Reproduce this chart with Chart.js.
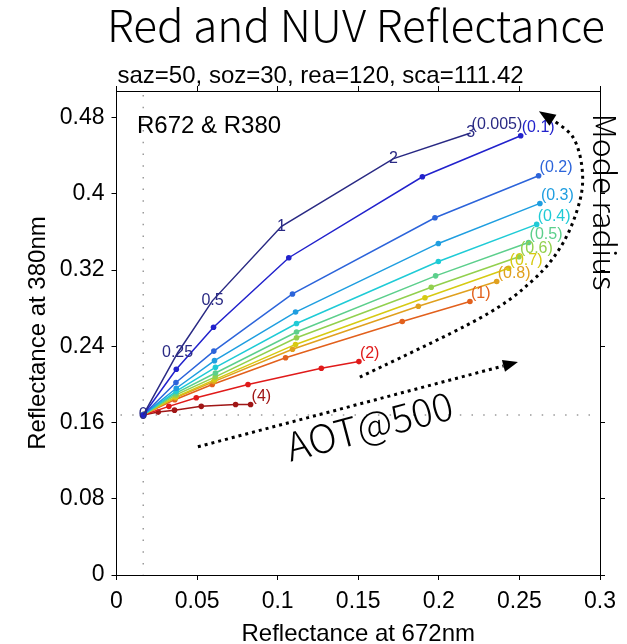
<!DOCTYPE html>
<html><head><meta charset="utf-8">
<script src="https://cdn.jsdelivr.net/npm/chart.js@4.4.1/dist/chart.umd.min.js"></script>
<style>html,body{margin:0;padding:0;background:#fff;}canvas{display:block;}</style>
</head><body>
<canvas id="c" width="627" height="644"></canvas>
<script>
// ---- data ----
const aotLabels = ["0", "0.25", "0.5", "1", "2", "3"];
const modeRadii = ["0.005", "0.1", "0.2", "0.3", "0.4", "0.5", "0.6", "0.7", "0.8", "1", "2", "4"];

const r672_r0005 = [0.0166, 0.0379, 0.0596, 0.1024, 0.1719, 0.2197];
const r380_r0005 = [0.168, 0.233, 0.288, 0.366, 0.437, 0.464];
const r672_r01 = [0.0166, 0.0371, 0.0602, 0.1069, 0.1898, 0.2508];
const r380_r01 = [0.168, 0.216, 0.260, 0.333, 0.418, 0.461];
const r672_r02 = [0.0166, 0.0369, 0.0604, 0.1092, 0.1976, 0.2619];
const r380_r02 = [0.168, 0.202, 0.235, 0.295, 0.375, 0.419];
const r672_r03 = [0.0166, 0.0371, 0.0608, 0.1111, 0.1997, 0.2627];
const r380_r03 = [0.168, 0.196, 0.225, 0.276, 0.348, 0.390];
const r672_r04 = [0.0166, 0.0371, 0.0614, 0.1117, 0.1997, 0.2607];
const r380_r04 = [0.168, 0.193, 0.218, 0.264, 0.329, 0.368];
const r672_r05 = [0.0166, 0.0369, 0.0614, 0.1117, 0.1980, 0.2557];
const r380_r05 = [0.168, 0.191, 0.212, 0.255, 0.314, 0.349];
const r672_r06 = [0.0166, 0.0369, 0.0613, 0.1117, 0.1953, 0.2497];
const r380_r06 = [0.168, 0.189, 0.208, 0.249, 0.302, 0.334];
const r672_r07 = [0.0166, 0.0368, 0.0610, 0.1111, 0.1914, 0.2433];
const r380_r07 = [0.168, 0.187, 0.205, 0.242, 0.291, 0.322];
const r672_r08 = [0.0166, 0.0366, 0.0604, 0.1092, 0.1873, 0.2359];
const r380_r08 = [0.168, 0.186, 0.203, 0.237, 0.282, 0.308];
const r672_r1 = [0.0166, 0.0362, 0.0594, 0.1049, 0.1773, 0.2193];
const r380_r1 = [0.168, 0.184, 0.200, 0.228, 0.266, 0.287];
const r672_r2 = [0.0166, 0.0325, 0.0495, 0.0816, 0.1271, 0.1504];
const r380_r2 = [0.168, 0.177, 0.186, 0.200, 0.217, 0.224];
const r672_r4 = [0.0166, 0.0259, 0.0360, 0.0526, 0.0739, 0.0832];
const r380_r4 = [0.168, 0.171, 0.173, 0.177, 0.179, 0.179];

const xTicks = [0, 0.05, 0.1, 0.15, 0.2, 0.25, 0.3];
const xTickLabels = ["0", "0.05", "0.1", "0.15", "0.2", "0.25", "0.3"];
const yTicks = [0, 0.08, 0.16, 0.24, 0.32, 0.4, 0.48];
const yTickLabels = ["0", "0.08", "0.16", "0.24", "0.32", "0.4", "0.48"];

// ---- styles / annotation geometry (data coordinates) ----
const seriesX = [r672_r0005, r672_r01, r672_r02, r672_r03, r672_r04, r672_r05, r672_r06, r672_r07, r672_r08, r672_r1, r672_r2, r672_r4];
const seriesY = [r380_r0005, r380_r01, r380_r02, r380_r03, r380_r04, r380_r05, r380_r06, r380_r07, r380_r08, r380_r1, r380_r2, r380_r4];
const seriesColors = ['#2a2a84', '#2222cc', '#2c64da', '#1f9ee0', '#1fcbd6', '#5ccf8c', '#92d04e', '#d6ca12', '#e0a01e', '#e2601c', '#e01a1a', '#a01616'];

const aotArrow = { from: [0.0505, 0.1346], tip: [0.2491, 0.2235] };
const radiusArrowPath = [[0.1510, 0.2077], [0.2255, 0.2696], [0.2584, 0.3095], [0.2770, 0.3483], [0.2876, 0.3935], [0.2888, 0.4281], [0.2832, 0.4596], [0.2708, 0.4774]];
const radiusArrowTip = [0.2621, 0.4868];

const FONT = '"Liberation Sans", Arial, sans-serif';
const JFONT = '"Noto Sans CJK JP", "Noto Sans", sans-serif';

const datasets = seriesX.map((xs, i) => ({
  label: modeRadii[i],
  data: xs.map((x, j) => ({ x: x, y: seriesY[i][j] })),
  borderColor: seriesColors[i],
  backgroundColor: seriesColors[i],
  borderWidth: 1.5,
  pointRadius: i === 0 ? 0 : 2.8,
  pointBorderWidth: 0,
  showLine: true,
  fill: false,
  tension: 0
}));

function P(chart, v) { return [chart.scales.x.getPixelForValue(v[0]), chart.scales.y.getPixelForValue(v[1])]; }

function arrowHead(ctx, base, tip, width) {
  const dx = tip[0] - base[0], dy = tip[1] - base[1];
  const L = Math.hypot(dx, dy), nx = -dy / L, ny = dx / L;
  ctx.beginPath();
  ctx.moveTo(tip[0], tip[1]);
  ctx.lineTo(base[0] + nx * width / 2, base[1] + ny * width / 2);
  ctx.lineTo(base[0] - nx * width / 2, base[1] - ny * width / 2);
  ctx.closePath();
  ctx.fill();
}

const decor = {
  id: 'decor',
  beforeDraw(chart) {
    const ctx = chart.ctx;
    ctx.save(); ctx.fillStyle = '#fff'; ctx.fillRect(0, 0, chart.width, chart.height); ctx.restore();
  },
  beforeDatasetsDraw(chart) {
    const ctx = chart.ctx, a = chart.chartArea;
    const o = P(chart, [seriesX[0][0], seriesY[0][0]]);
    ctx.save();
    ctx.strokeStyle = '#9a9a9a'; ctx.lineWidth = 1.5; ctx.setLineDash([1.5, 10.2]);
    ctx.beginPath(); ctx.moveTo(o[0], a.top + 4); ctx.lineTo(o[0], a.bottom); ctx.stroke();
    ctx.beginPath(); ctx.moveTo(a.left + 4, o[1]); ctx.lineTo(a.right, o[1]); ctx.stroke();
    ctx.restore();
  },
  afterDatasetsDraw(chart) {
    const ctx = chart.ctx;
    ctx.save();
    ctx.font = '16px ' + FONT; ctx.textAlign = 'center'; ctx.textBaseline = 'middle';
    ctx.fillStyle = seriesColors[0];
    seriesX[0].forEach((x, j) => {
      const p = P(chart, [x, seriesY[0][j]]);
      ctx.fillText(aotLabels[j], p[0], p[1]);
    });
    ctx.textAlign = 'left';
    seriesX.forEach((xs, i) => {
      const n = xs.length - 1;
      const p = P(chart, [xs[n], seriesY[i][n]]);
      ctx.fillStyle = seriesColors[i];
      ctx.fillText('(' + modeRadii[i] + ')', p[0] + 1, p[1] - 8);
    });
    ctx.restore();
  },
  afterDraw(chart) {
    const ctx = chart.ctx, a = chart.chartArea;
    ctx.save();
    ctx.fillStyle = '#000';
    ctx.font = '300 44px ' + JFONT; ctx.textAlign = 'center'; ctx.textBaseline = 'alphabetic';
    ctx.fillText('Red and NUV Reflectance', 356, 42);
    ctx.font = '24px ' + FONT; ctx.textAlign = 'left';
    ctx.fillText('saz=50, soz=30, rea=120, sca=111.42', a.left + 1, 83);
    ctx.fillText('R672 & R380', 137, 133);
    ctx.save();
    ctx.translate(605, 202); ctx.rotate(Math.PI / 2);
    ctx.font = '300 32px ' + JFONT; ctx.textAlign = 'center'; ctx.textBaseline = 'middle';
    ctx.fillText('Mode radius', 0, 0);
    ctx.restore();
    ctx.save();
    ctx.translate(373, 440); ctx.rotate(-14.7 * Math.PI / 180);
    ctx.font = '300 39px ' + JFONT; ctx.textAlign = 'center'; ctx.textBaseline = 'alphabetic';
    ctx.fillText('AOT@500', 0, 0);
    ctx.restore();
    ctx.strokeStyle = '#000'; ctx.fillStyle = '#000'; ctx.lineWidth = 3; ctx.setLineDash([3, 4]);
    const s = P(chart, aotArrow.from), t = P(chart, aotArrow.tip);
    const L = Math.hypot(t[0] - s[0], t[1] - s[1]);
    const ux = (t[0] - s[0]) / L, uy = (t[1] - s[1]) / L;
    const b = [t[0] - ux * 15, t[1] - uy * 15];
    ctx.beginPath(); ctx.moveTo(s[0], s[1]); ctx.lineTo(b[0], b[1]); ctx.stroke();
    ctx.setLineDash([]);
    arrowHead(ctx, b, t, 12);
    const pts = radiusArrowPath.map(v => P(chart, v));
    ctx.setLineDash([3, 4]);
    ctx.beginPath(); ctx.moveTo(pts[0][0], pts[0][1]);
    for (let i = 0; i < pts.length - 1; i++) {
      const p0 = pts[Math.max(0, i - 1)], p1 = pts[i], p2 = pts[i + 1], p3 = pts[Math.min(pts.length - 1, i + 2)];
      ctx.bezierCurveTo(p1[0] + (p2[0] - p0[0]) / 6, p1[1] + (p2[1] - p0[1]) / 6,
                        p2[0] - (p3[0] - p1[0]) / 6, p2[1] - (p3[1] - p1[1]) / 6, p2[0], p2[1]);
    }
    ctx.stroke();
    ctx.setLineDash([]);
    arrowHead(ctx, pts[pts.length - 1], P(chart, radiusArrowTip), 13);
    ctx.restore();
  }
};

const gridCfg = { drawOnChartArea: false, drawTicks: true, tickLength: 5, color: '#000', tickColor: '#000', lineWidth: 1 };
const borderCfg = { display: true, color: '#000', width: 1 };

new Chart(document.getElementById('c'), {
  type: 'line',
  data: { datasets: datasets },
  options: {
    responsive: false, animation: false, devicePixelRatio: 1,
    layout: { padding: 0 },
    plugins: { legend: { display: false }, tooltip: { enabled: false }, title: { display: false } },
    scales: {
      x: {
        type: 'linear', position: 'bottom', min: 0, max: 0.3,
        afterBuildTicks: s => { s.ticks = xTicks.map(v => ({ value: v })); },
        afterFit: s => { s.height = 69; },
        ticks: { callback: (v, i) => xTickLabels[i], color: '#000', font: { family: FONT, size: 23 }, padding: 8, maxRotation: 0, autoSkip: false },
        grid: gridCfg, border: borderCfg,
        title: { display: true, text: 'Reflectance at 672nm', color: '#000', font: { family: FONT, size: 24, lineHeight: 0.8 }, padding: 0 }
      },
      x2: {
        type: 'linear', position: 'top', min: 0, max: 0.3,
        afterBuildTicks: s => { s.ticks = xTicks.map(v => ({ value: v })); },
        afterFit: s => { s.height = 91; },
        ticks: { display: false }, grid: gridCfg, border: borderCfg
      },
      y: {
        type: 'linear', position: 'left', min: 0, max: 0.508,
        afterBuildTicks: s => { s.ticks = yTicks.map(v => ({ value: v })); },
        afterFit: s => { s.width = 116.5; },
        ticks: { callback: (v, i) => yTickLabels[i], color: '#000', font: { family: FONT, size: 23 }, padding: 7, autoSkip: false },
        grid: gridCfg, border: borderCfg,
        title: { display: true, text: 'Reflectance at 380nm', color: '#000', font: { family: FONT, size: 24 }, padding: { top: 24, bottom: 0 } }
      },
      y2: {
        type: 'linear', position: 'right', min: 0, max: 0.508,
        afterBuildTicks: s => { s.ticks = yTicks.map(v => ({ value: v })); },
        afterFit: s => { s.width = 27; },
        ticks: { display: false }, grid: gridCfg, border: borderCfg
      }
    }
  },
  plugins: [decor]
});
</script>
</body></html>
